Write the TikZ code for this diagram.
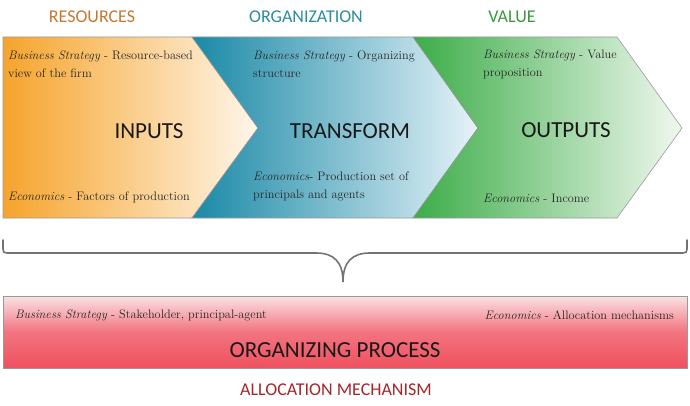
\documentclass[tikz,border=0pt]{standalone}
\usepackage{fontspec}
\newfontfamily\capfont{Carlito}
\definecolor{resbrown}{HTML}{C47832}
\definecolor{orgteal}{HTML}{2A8C9C}
\definecolor{valgreen}{HTML}{3A9838}
\definecolor{allocred}{HTML}{A3262A}
\definecolor{orangeL}{HTML}{F6A42C}
\definecolor{orangeR}{HTML}{FFF6EA}
\definecolor{tealL}{HTML}{1A89A6}
\definecolor{tealR}{HTML}{E6F3F8}
\definecolor{greenL}{HTML}{3CAD48}
\definecolor{greenR}{HTML}{F0F8EF}
\definecolor{pinkT}{HTML}{FBE2E4}
\definecolor{pinkM}{HTML}{F27480}
\definecolor{pinkB}{HTML}{F0505E}
\begin{document}
\begin{tikzpicture}[x=1pt,y=-1pt,
  stage/.style={draw=black!40, line width=0.6pt},
  head/.style={font=\capfont\fontsize{18}{20}\selectfont},
  big/.style={font=\capfont\fontsize{23}{26}\selectfont, text=black!90},
  note/.style={font=\fontsize{12.3}{18}\selectfont, anchor=west, inner sep=0pt,
    align=left, text=black!85},
  bracestyle/.style={draw=black!55, line width=1.6pt, line cap=round}
]
\useasboundingbox (0,0) rectangle (690,406);

% the three stages of the chevron band
\path[stage, left color=orangeL, right color=orangeR]
  (3,37) -- (192,37) -- (258,128) -- (192,218) -- (3,218) -- cycle;
\path[stage, left color=tealL, right color=tealR]
  (192,37) -- (413,37) -- (478,128) -- (413,218) -- (192,218) -- (258,128) -- cycle;
\path[stage, left color=greenL, right color=greenR]
  (413,37) -- (617,37) -- (682,128) -- (617,218) -- (413,218) -- (478,128) -- cycle;

% headings above the stages
\node[head, text=resbrown] (res) at (92,17) {RESOURCES};
\node[head, text=orgteal] (org) at (306,17) {ORGANIZATION};
\node[head, text=valgreen] (val) at (512,17) {VALUE};

% stage titles
\node[big] (inputs) at (149,131) {INPUTS};
\node[big] (transform) at (350,131) {TRANSFORM};
\node[big] (outputs) at (566,130) {OUTPUTS};

% stage notes
\node[note] (in1) at (8,64) {\textit{Business Strategy} - Resource-based\\view of the firm};
\node[note] (in2) at (8,197) {\textit{Economics} - Factors of production};
\node[note] (tr1) at (253,64) {\textit{Business Strategy} - Organizing\\structure};
\node[note] (tr2) at (253,186) {\textit{Economics}- Production set of\\principals and agents};
\node[note] (ou1) at (483,64) {\textit{Business Strategy} - Value\\proposition};
\node[note] (ou2) at (483,198) {\textit{Economics} - Income};

% brace gathering the stages
\coordinate (bl) at (3,240);
\coordinate (br) at (687,240);
\coordinate (tip) at (343,282);
\draw[bracestyle] (bl) -- (3,249) .. controls (3,252) and (4,253) .. (7,253)
  -- (316,253) .. controls (334,253) and (343,262) .. (tip)
  .. controls (343,262) and (352,253) .. (370,253)
  -- (683,253) .. controls (686,253) and (687,252) .. (687,249) -- (br);

% organizing process bar
\path[draw=black!40, line width=0.6pt, top color=pinkT, bottom color=pinkB, middle color=pinkM]
  (3,296) rectangle (687,368);
\node[note] (op1) at (15,315) {\textit{Business Strategy} - Stakeholder, principal-agent};
\node[note, anchor=east] (op2) at (674,315) {\textit{Economics} - Allocation mechanisms};
\node[big] (proc) at (335,350) {ORGANIZING PROCESS};
\node[head, text=allocred] (alloc) at (336,390) {ALLOCATION MECHANISM};
\end{tikzpicture}
\end{document}
